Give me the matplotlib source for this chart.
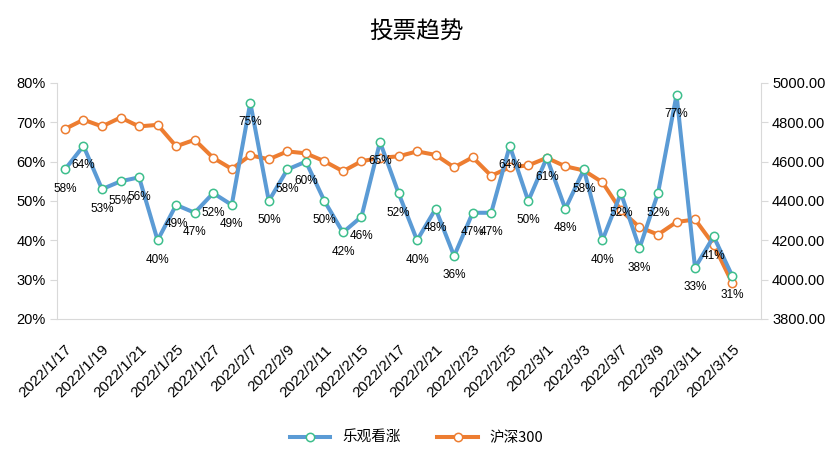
import matplotlib
matplotlib.use("Agg")
import matplotlib.pyplot as plt
from matplotlib.ticker import FuncFormatter, MultipleLocator

plt.rcParams['font.family'] = ['Liberation Sans', 'Noto Sans CJK SC', 'DejaVu Sans']

dates = ["2022/1/17", "2022/1/18", "2022/1/19", "2022/1/20", "2022/1/21", "2022/1/24",
         "2022/1/25", "2022/1/26", "2022/1/27", "2022/1/28", "2022/2/7", "2022/2/8",
         "2022/2/9", "2022/2/10", "2022/2/11", "2022/2/14", "2022/2/15", "2022/2/16",
         "2022/2/17", "2022/2/18", "2022/2/21", "2022/2/22", "2022/2/23", "2022/2/24",
         "2022/2/25", "2022/2/28", "2022/3/1", "2022/3/2", "2022/3/3", "2022/3/4",
         "2022/3/7", "2022/3/8", "2022/3/9", "2022/3/10", "2022/3/11", "2022/3/14",
         "2022/3/15"]
bullish = [58, 64, 53, 55, 56, 40, 49, 47, 52, 49, 75, 50, 58, 60, 50, 42, 46, 65, 52,
           40, 48, 36, 47, 47, 64, 50, 61, 48, 58, 40, 52, 38, 52, 77, 33, 41, 31]
hs300 = [4766, 4813, 4779, 4824, 4779, 4787, 4678, 4711, 4619, 4563, 4632, 4612, 4652,
         4642, 4602, 4551, 4602, 4619, 4627, 4652, 4634, 4571, 4622, 4528, 4571, 4581,
         4619, 4576, 4555, 4495, 4352, 4267, 4229, 4293, 4306, 4178, 3984]
series_names = ["乐观看涨", "沪深300"]
title = "投票趋势"

blue = "#5B9BD5"
blue_edge = "#3DBE8C"
orange = "#ED7D31"

fig = plt.figure(figsize=(8.33, 4.66), dpi=100)
ax = fig.add_axes([0.0684, 0.3155, 0.845, 0.5065])
ax2 = ax.twinx()

x = list(range(len(dates)))
l1, = ax.plot(x, bullish, color=blue, lw=2.9, marker='o', ms=6, mfc='white',
              mec=blue_edge, mew=1.1, zorder=3, label=series_names[0])
l2, = ax2.plot(x, hs300, color=orange, lw=2.9, marker='o', ms=6, mfc='white',
               mec=orange, mew=1.1, zorder=3, label=series_names[1])
ax.set_zorder(ax2.get_zorder() + 1)
ax.patch.set_visible(False)

for xi, v in zip(x, bullish):
    ax.annotate(f"{v}%", (xi, v), xytext=(0, -14), textcoords='offset points',
                ha='center', va='center', fontsize=8.5, color='black', zorder=5)

ax.set_ylim(20, 80)
ax.yaxis.set_major_locator(MultipleLocator(10))
ax.yaxis.set_major_formatter(FuncFormatter(lambda v, p: f"{v:.0f}%"))
ax2.set_ylim(3800, 5000)
ax2.yaxis.set_major_locator(MultipleLocator(200))
ax2.yaxis.set_major_formatter(FuncFormatter(lambda v, p: f"{v:.2f}"))
ax.set_xlim(-0.43, 37.55)

ax.set_xticks(x[::2])
ax.set_xticklabels(dates[::2], rotation=45, ha='right', rotation_mode='anchor',
                   fontsize=11)
ax.tick_params(axis='x', length=0, pad=17)
ax.tick_params(axis='y', length=5, color='#D9D9D9', labelsize=10.5, pad=3)
ax2.tick_params(axis='y', length=5, color='#D9D9D9', labelsize=10.5, pad=3)

for a in (ax, ax2):
    for s in a.spines.values():
        s.set_visible(False)
ax.spines['left'].set_visible(True)
ax.spines['left'].set_color('#D9D9D9')
ax.spines['bottom'].set_visible(True)
ax.spines['bottom'].set_color('#D9D9D9')
ax2.spines['right'].set_visible(True)
ax2.spines['right'].set_color('#D9D9D9')

fig.suptitle(title, y=0.955, fontsize=17, family=['Noto Sans CJK SC', 'DejaVu Sans'])
fig.legend([l1, l2], series_names, loc='center', bbox_to_anchor=(0.5, 0.06), ncol=2,
           frameon=False, handlelength=2.8, columnspacing=2.5,
           prop={'family': ['Noto Sans CJK SC', 'DejaVu Sans'], 'size': 10.5})

fig.savefig("out.png", dpi=100)
